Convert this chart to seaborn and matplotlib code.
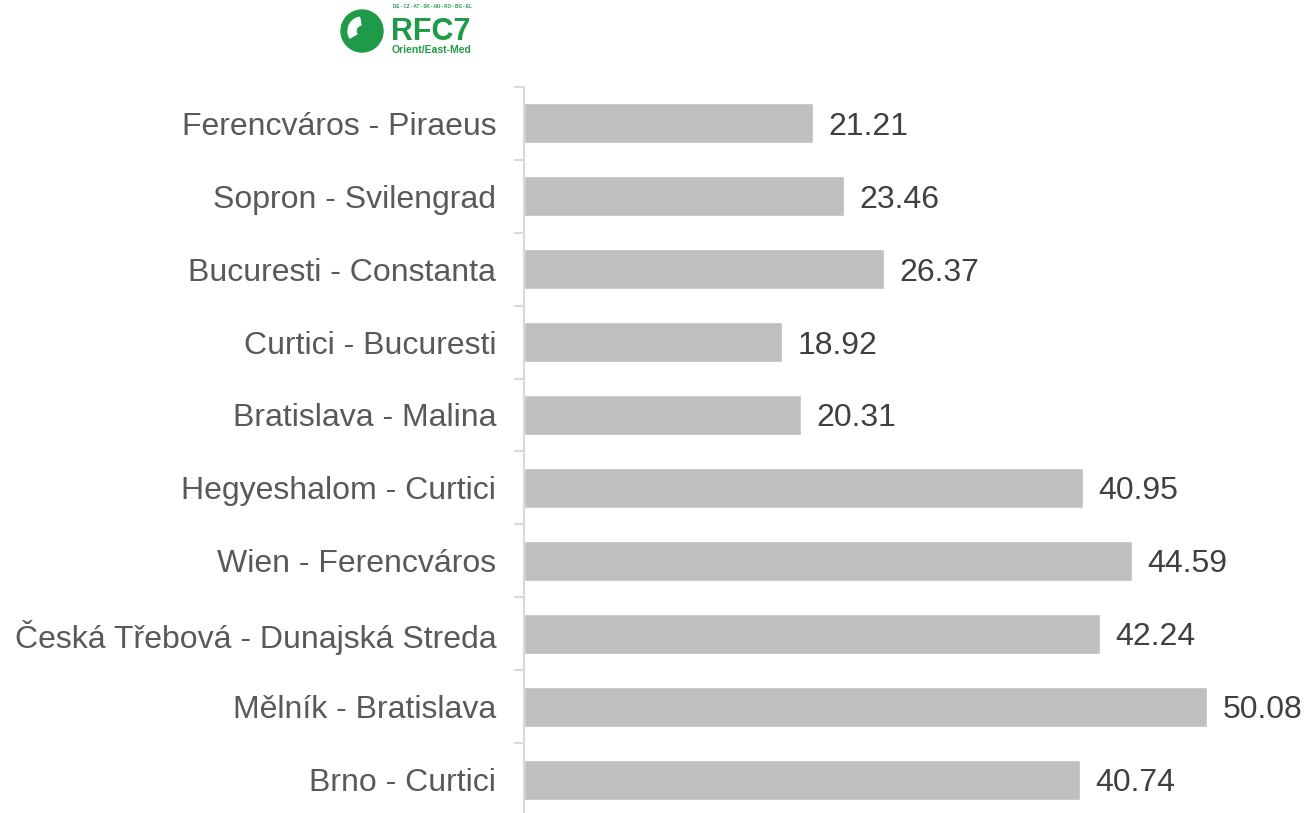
import matplotlib
matplotlib.use("Agg")
from matplotlib import pyplot as plt
from matplotlib.patches import Circle, Wedge
import numpy as np
import pandas as pd
import seaborn as sns

# Data (top to bottom)
routes = [
    "Ferencváros - Piraeus",
    "Sopron - Svilengrad",
    "Bucuresti - Constanta",
    "Curtici - Bucuresti",
    "Bratislava - Malina",
    "Hegyeshalom - Curtici",
    "Wien - Ferencváros",
    "Česká Třebová - Dunajská Streda",
    "Mělník - Bratislava",
    "Brno - Curtici",
]
values = [21.21, 23.46, 26.37, 18.92, 20.31, 40.95, 44.59, 42.24, 50.08, 40.74]

df = pd.DataFrame({"route": routes, "value": values})

sns.set_style("white")
plt.rcParams["font.family"] = ["Liberation Sans", "DejaVu Sans"]

fig = plt.figure(figsize=(13.09, 8.13), dpi=100)
ax = fig.add_axes([0.4003, -0.0043, 0.5997, 0.8979])

sns.barplot(data=df, x="value", y="route", orient="h", color="#bfbfbf",
            saturation=1, width=0.55, ax=ax)

ax.set_xlim(0, 57.55)
ax.set_ylim(9.5, -0.5)
ax.set_xlabel("")
ax.set_ylabel("")
ax.set_xticks([])

for side in ["top", "right", "bottom"]:
    ax.spines[side].set_visible(False)
ax.spines["left"].set_color("#d9d9d9")
ax.spines["left"].set_linewidth(1.5)

# category labels at centres, tick marks at the boundaries
ax.tick_params(axis="y", which="major", left=False, length=0, pad=20,
               labelsize=23, labelcolor="#595959")
ax.set_yticks(np.arange(-0.5, len(routes), 1), minor=True)
ax.tick_params(axis="y", which="minor", left=True, length=7, width=1.5,
               color="#d9d9d9")

labels = ax.bar_label(ax.containers[0], fmt="%.2f", padding=11,
                      fontsize=23, color="#404040")
for t in labels:
    t.set_va("center_baseline")

# small RFC7 logo, drawn in pixel units
lax = fig.add_axes([330 / 1309, 1 - 60 / 813, 180 / 1309, 60 / 813])
lax.set_xlim(330, 510)
lax.set_ylim(60, 0)
lax.axis("off")
green = "#1f9a48"
lax.add_patch(Circle((362, 31), 21, color=green))
lax.add_patch(Wedge((362, 31), 14, 150, 260, width=8, color="white"))
lax.text(391, 40, "RFC7", fontsize=22, fontweight="bold", color=green,
         va="baseline", ha="left")
lax.text(392, 53, "Orient/East-Med", fontsize=7.5, fontweight="bold",
         color=green, va="baseline", ha="left")
lax.text(393, 6, "DE - CZ - AT - SK - HU - RO - BG - EL", fontsize=3.3,
         fontweight="bold", color=green, va="center", ha="left")

fig.savefig("out.png", dpi=100)
